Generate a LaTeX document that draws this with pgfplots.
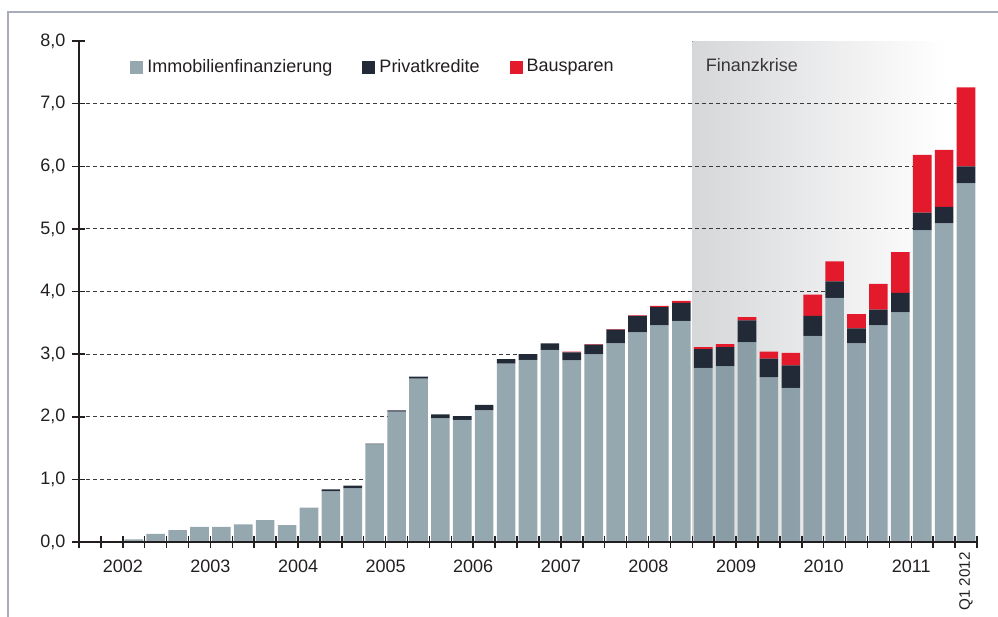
\documentclass[border=0pt]{standalone}
\usepackage{fontspec}
\setmainfont{Liberation Sans}
\usepackage{pgfplots}
\usepackage{pgfplotstable}
\pgfplotsset{compat=1.18}
\definecolor{immo}{HTML}{68838F}
\definecolor{priv}{HTML}{232A37}
\definecolor{baus}{HTML}{E31A2C}
\definecolor{shadec}{HTML}{D6D7D9}
\definecolor{shadem}{HTML}{E1E2E4}
\definecolor{gridc}{HTML}{3A3A3A}
\definecolor{framec}{HTML}{A8ACB8}
\definecolor{axisc}{HTML}{231F20}
\definecolor{textc}{HTML}{231F20}
\pgfplotsset{mylegend/.style={legend image code/.code={\fill[##1] (0pt,-3.25pt) rectangle (6.5pt,3.25pt);}}}
\pgfplotsset{geom/.style={at={(39.5pt,37.5pt)}, anchor=south west,
  scale only axis, width=449pt, height=250.5pt,
  xmin=-0.5, xmax=40.5, ymin=0, ymax=8}}
\pgfplotstableread{
i immo priv baus
0 0 0 0
1 0 0 0
2 0.04 0 0
3 0.13 0 0
4 0.19 0 0
5 0.24 0 0
6 0.24 0 0
7 0.28 0 0
8 0.35 0 0
9 0.27 0 0
10 0.55 0 0
11 0.81 0.03 0
12 0.86 0.04 0
13 1.56 0.01 0
14 2.08 0.02 0
15 2.61 0.03 0
16 1.98 0.06 0
17 1.95 0.06 0
18 2.10 0.09 0
19 2.85 0.07 0
20 2.91 0.09 0
21 3.07 0.10 0
22 2.90 0.13 0.01
23 3.00 0.15 0.01
24 3.17 0.22 0.01
25 3.35 0.26 0.01
26 3.46 0.29 0.02
27 3.53 0.29 0.03
28 2.78 0.30 0.03
29 2.81 0.30 0.05
30 3.19 0.35 0.05
31 2.63 0.30 0.11
32 2.46 0.36 0.20
33 3.29 0.32 0.34
34 3.90 0.26 0.32
35 3.17 0.24 0.23
36 3.46 0.25 0.41
37 3.67 0.31 0.65
38 4.98 0.28 0.92
39 5.09 0.26 0.91
40 5.73 0.27 1.26
}\data
\begin{document}
\begin{tikzpicture}
\useasboundingbox (0,0) rectangle (499pt,308.5pt);
\draw[framec, line width=0.75pt] (4pt,0) -- (4pt,302.5pt) -- (499pt,302.5pt);
% background: crisis shading, partial dashed grid lines
\begin{axis}[geom, hide axis]
\fill[left color=shadec, middle color=shadem, right color=white] (axis cs:27.5,0) rectangle (axis cs:39.05,8);
\draw[gridc, line width=0.5pt, dash pattern=on 2pt off 1.5pt] (axis cs:-0.5,1) -- (axis cs:12.575,1);
\draw[gridc, line width=0.5pt, dash pattern=on 2pt off 1.5pt] (axis cs:-0.5,2) -- (axis cs:13.575,2);
\draw[gridc, line width=0.5pt, dash pattern=on 2pt off 1.5pt] (axis cs:-0.5,3) -- (axis cs:19.9,3);
\draw[gridc, line width=0.5pt, dash pattern=on 2pt off 1.5pt] (axis cs:-0.5,4) -- (axis cs:33.575,4);
\draw[gridc, line width=0.5pt, dash pattern=on 2pt off 1.5pt] (axis cs:-0.5,5) -- (axis cs:37.575,5);
\draw[gridc, line width=0.5pt, dash pattern=on 2pt off 1.5pt] (axis cs:-0.5,6) -- (axis cs:37.575,6);
\draw[gridc, line width=0.5pt, dash pattern=on 2pt off 1.5pt] (axis cs:-0.5,7) -- (axis cs:39.575,7);
\node[anchor=west, inner sep=0pt, font=\fontsize{9}{11}\selectfont, text=textc!90] at (axis cs:28.1,7.62) {Finanzkrise};
\end{axis}
\begin{axis}[
  geom, axis on top, clip=false,
  axis lines=left,
  axis line style={-, line width=1pt, color=axisc},
  ybar stacked, bar width=0.85,
  ytick={0,...,8},
  xtick={1.5,5.5,9.5,13.5,17.5,21.5,25.5,29.5,33.5,37.5},
  xticklabels={2002,2003,2004,2005,2006,2007,2008,2009,2010,2011},
  minor xtick={-0.5,0.5,...,40.5},
  major x tick style={draw=none},
  xticklabel style={yshift=-2pt},
  tick align=center,
  major tick length=6.5pt,
  minor tick length=6pt,
  tick style={color=axisc, line width=0.75pt},
  tick label style={font=\fontsize{9}{11}\selectfont, color=textc},
  /pgf/number format/assume math mode=true,
  yticklabel style={/pgf/number format/.cd, fixed, fixed zerofill, precision=1, use comma},
  legend columns=3,
  legend style={at={(0.0568,0.948)}, anchor=west, draw=none, fill=none,
    inner sep=0pt, font=\fontsize{9}{11}\selectfont, text=textc,
    /tikz/every even column/.append style={column sep=13pt}},
]
\addplot[fill=immo, fill opacity=0.7, draw=none, mylegend] table[x=i, y=immo] {\data};
\addplot[fill=priv, draw=none, mylegend] table[x=i, y=priv] {\data};
\addplot[fill=baus, draw=none, mylegend] table[x=i, y=baus] {\data};
\legend{Immobilienfinanzierung, Privatkredite, Bausparen}
\node[yshift=-5pt, rotate=90, anchor=east, inner sep=0pt, font=\fontsize{7.6}{9}\selectfont, text=textc] at (axis cs:40,0) {Q1 2012};
\end{axis}
\end{tikzpicture}
\end{document}
